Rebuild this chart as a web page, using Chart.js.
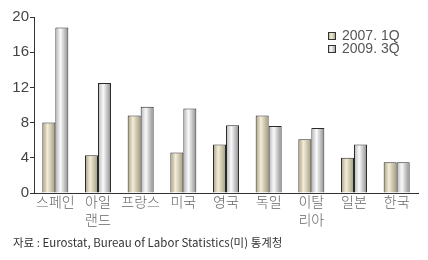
<!DOCTYPE html>
<html><head><meta charset="utf-8">
<script src="https://cdn.jsdelivr.net/npm/chart.js@4/dist/chart.umd.min.js"></script>
<style>html,body{margin:0;padding:0;background:#fff}#w{width:428px;height:260px}</style>
</head><body><div id="w"><canvas id="c"></canvas></div>
<script>
const categories = [["스페인"], ["아일", "랜드"], ["프랑스"], ["미국"], ["영국"], ["독일"], ["이탈", "리아"], ["일본"], ["한국"]];
const series2007 = [8.0, 4.3, 8.8, 4.6, 5.5, 8.8, 6.1, 4.0, 3.5];
const series2009 = [18.8, 12.5, 9.8, 9.6, 7.7, 7.6, 7.4, 5.5, 3.5];
const seriesLabels = ["2007. 1Q", "2009. 3Q"];
const yTicks = [0, 4, 8, 12, 16, 20];
const footnote = "자료 : Eurostat, Bureau of Labor Statistics(미) 통계청";

const CAT_PCT = 0.61;
const stops = [
  [[0, '#a89e78'], [0.4, '#f2eedc'], [1, '#a49a78']],
  [[0, '#b4b4b8'], [0.4, '#fafafa'], [1, '#8c8c90']]
];
function grad(ctx) {
  const chart = ctx.chart;
  const xs = chart.scales.x;
  if (!xs || ctx.dataIndex === undefined || !isFinite(xs.width)) return stops[ctx.datasetIndex][1][1];
  const step = xs.width / categories.length;
  const group = step * CAT_PCT;
  const center = xs.getPixelForValue(ctx.dataIndex);
  const left = center - group / 2 + ctx.datasetIndex * group / 2;
  const g = chart.ctx.createLinearGradient(left, 0, left + group / 2, 0);
  stops[ctx.datasetIndex].forEach(s => g.addColorStop(s[0], s[1]));
  return g;
}
const FONT = "'Liberation Sans', 'Noto Sans CJK KR', sans-serif";
const KFONT = "'Noto Sans CJK KR', sans-serif";

const extras = {
  id: 'extras',
  afterDraw(chart) {
    const c = chart.ctx;
    c.save();
    c.font = "14px " + FONT;
    c.textBaseline = 'middle';
    chart.data.datasets.forEach((ds, i) => {
      const y = 36 + i * 13;
      const g = c.createLinearGradient(328, 0, 336, 0);
      stops[i].forEach(s => g.addColorStop(s[0], s[1]));
      c.fillStyle = g;
      c.fillRect(328.5, y - 3.5, 7, 7);
      c.strokeStyle = '#333';
      c.lineWidth = 1;
      c.strokeRect(328.5, y - 3.5, 7, 7);
      c.fillStyle = '#555';
      c.fillText(ds.label, 342, y + 0.5);
    });
    c.font = "11.5px " + KFONT;
    c.fillStyle = '#333';
    c.fillText(footnote, 13, 243);
    c.restore();
  }
};

new Chart(document.getElementById('c'), {
  type: 'bar',
  data: {
    labels: categories,
    datasets: [
      { label: seriesLabels[0], data: series2007, backgroundColor: grad, borderColor: '#2a2a2a', borderWidth: 1 },
      { label: seriesLabels[1], data: series2009, backgroundColor: grad, borderColor: '#2a2a2a', borderWidth: 1 }
    ]
  },
  options: {
    responsive: true,
    maintainAspectRatio: false,
    animation: false,
    layout: { padding: { top: 17, right: 10, bottom: 27, left: 0 } },
    datasets: { bar: { categoryPercentage: CAT_PCT, barPercentage: 1 } },
    plugins: { legend: { display: false }, tooltip: { enabled: false }, colors: { enabled: false } },
    scales: {
      x: {
        grid: { display: false, drawTicks: false, tickLength: 0 },
        border: { display: true, color: '#333', width: 1 },
        ticks: {
          color: '#666',
          font: { family: KFONT, size: 14, weight: 300, lineHeight: 1.29 },
          padding: 0,
          maxRotation: 0,
          autoSkip: false
        },
        afterFit(s) { s.height = 40; }
      },
      y: {
        min: 0, max: 20,
        afterBuildTicks(s) { s.ticks = yTicks.map(v => ({ value: v })); },
        grid: { display: true, drawOnChartArea: false, drawTicks: true, tickLength: 4, color: '#333' },
        border: { display: true, color: '#333', width: 1 },
        ticks: { color: '#444', font: { family: FONT, size: 15 }, padding: 1 },
        afterFit(s) { s.width = 34; }
      }
    }
  },
  plugins: [extras]
});
</script>
</body></html>
